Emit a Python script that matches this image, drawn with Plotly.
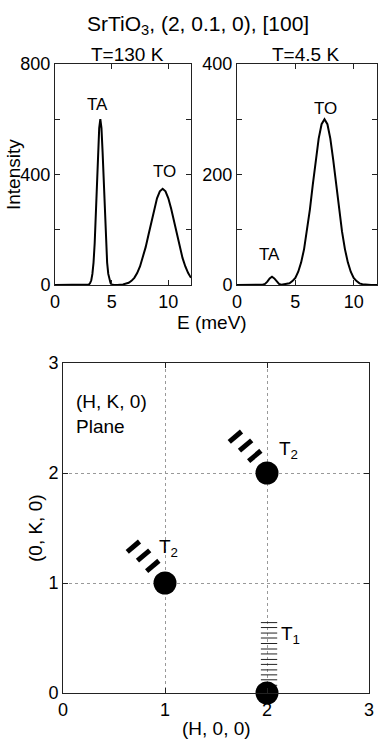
import plotly.graph_objects as go

W, H = 382, 740
FONT = "Liberation Sans, Arial, sans-serif"

# spectra
e_130k = [0, 2.8, 3.0, 3.1, 3.2, 3.3, 3.4, 3.5, 3.6, 3.7, 3.8, 3.9, 4.0, 4.1, 4.2, 4.3, 4.4, 4.5, 4.6, 4.7,
          4.8, 4.9, 5.0, 5.2, 5.5, 6.0, 6.5, 6.75, 7.0, 7.25, 7.5, 7.75, 8.0, 8.25, 8.5, 8.75, 9.0, 9.25, 9.5,
          9.75, 10.0, 10.25, 10.5, 10.75, 11.0, 11.25, 11.5, 11.75, 12.0]
i_130k = [0, 0, 2, 7, 17, 40, 81, 150, 247, 364, 481, 568, 600, 568, 481, 364, 247, 150, 81, 40,
          17, 7, 2, 0, 0, 2, 8, 15, 26, 43, 67, 98, 137, 182, 230, 276, 314, 339, 348,
          339, 314, 276, 230, 182, 137, 98, 67, 43, 26]

e_45k = [0, 2.0, 2.2, 2.4, 2.6, 2.8, 3.0, 3.2, 3.4, 3.6, 3.8, 4.0, 4.25, 4.5, 4.75, 5.0, 5.25, 5.5, 5.75, 6.0,
         6.25, 6.5, 6.75, 7.0, 7.25, 7.5, 7.75, 8.0, 8.25, 8.5, 8.75, 9.0, 9.25, 9.5, 9.75, 10.0, 10.25, 10.5,
         10.75, 11.0, 11.5, 12.0]
i_45k = [0, 0, 0.5, 2, 6, 12, 15, 12, 6, 2, 0.5, 1, 1.5, 3, 7, 13, 24, 41, 65, 97,
         137, 182, 226, 265, 291, 300, 291, 265, 226, 182, 137, 97, 65, 41, 24, 13, 7, 3,
         1.5, 0.7, 0, 0]

# peak labels (E, intensity)
peak_text = ["TA", "TO"]
peak_e_130k = [3.75, 9.7]
peak_i_130k = [655, 411]
peak_e_45k = [2.8, 7.55]
peak_i_45k = [56, 319]

# reciprocal lattice points in the (H, K, 0) plane
bragg_h = [2, 1, 2]
bragg_k = [0, 1, 2]
mode_text = ["T<sub>1</sub>", "T<sub>2</sub>", "T<sub>2</sub>"]
mode_h = [2.12, 0.92, 2.10]
mode_k = [0.53, 1.32, 2.21]

# T2: the three thick bars, offsets from their Bragg point
t2_bar_dh = [-0.12, -0.21, -0.31]
t2_bar_dk = [0.155, 0.25, 0.33]
# T1: heights of the thin rungs above (2, 0, 0)
t1_rung_k = [0.02, 0.07, 0.12, 0.165, 0.21, 0.26, 0.305, 0.355, 0.40, 0.45, 0.50, 0.545, 0.595, 0.64]


def px(x):
    return x / W


def py(y):
    return 1 - y / H


fig = go.Figure()

fig.add_trace(go.Scatter(x=e_130k, y=i_130k, mode="lines", line=dict(color="black", width=2),
                         xaxis="x", yaxis="y", showlegend=False))
fig.add_trace(go.Scatter(x=e_45k, y=i_45k, mode="lines", line=dict(color="black", width=2),
                         xaxis="x2", yaxis="y2", showlegend=False))

# T1 rungs (horizontal thin lines)
rx, ry = [], []
for k in t1_rung_k:
    rx += [bragg_h[0] - 0.06, bragg_h[0] + 0.10, None]
    ry += [k, k, None]
fig.add_trace(go.Scatter(x=rx, y=ry, mode="lines", line=dict(color="#222", width=1),
                         xaxis="x3", yaxis="y3", showlegend=False, cliponaxis=False))

# T2 bars (thick, perpendicular to the ladder)
bx, by = [], []
hdx, hdk = 0.060, 0.047
for h0, k0 in zip(bragg_h[1:], bragg_k[1:]):
    for dh, dk in zip(t2_bar_dh, t2_bar_dk):
        bx += [h0 + dh - hdx, h0 + dh + hdx, None]
        by += [k0 + dk - hdk, k0 + dk + hdk, None]
fig.add_trace(go.Scatter(x=bx, y=by, mode="lines", line=dict(color="black", width=5),
                         xaxis="x3", yaxis="y3", showlegend=False))

fig.add_trace(go.Scatter(x=bragg_h, y=bragg_k, mode="markers",
                         marker=dict(color="black", size=23, line=dict(width=0)),
                         xaxis="x3", yaxis="y3", showlegend=False, cliponaxis=False))

tickfont = dict(family=FONT, size=18, color="black")
common = dict(showline=True, linecolor="#222", linewidth=1, mirror="ticks", ticks="inside",
              ticklen=5, tickcolor="#222", showgrid=False, zeroline=False, tickfont=tickfont,
              automargin=False)
minor = dict(ticks="inside", ticklen=5, tickcolor="#222", showgrid=False)

fig.update_layout(
    width=W, height=H, margin=dict(l=0, r=0, t=0, b=0, pad=0, autoexpand=False),
    paper_bgcolor="white", plot_bgcolor="white",
    font=dict(family=FONT, color="black"),
    xaxis=dict(common, domain=[px(55), px(191)], range=[0, 12], tickvals=[0, 5, 10], anchor="y"),
    yaxis=dict(common, domain=[py(285), py(64)], range=[0, 800], tickvals=[0, 400, 800],
               minor=dict(minor, tickvals=[200, 600]), anchor="x"),
    xaxis2=dict(common, domain=[px(237), px(377)], range=[0, 12], tickvals=[0, 5, 10], anchor="y2"),
    yaxis2=dict(common, domain=[py(285), py(64)], range=[0, 400], tickvals=[0, 200, 400],
                minor=dict(minor, tickvals=[100, 300]), anchor="x2"),
    xaxis3=dict(common, domain=[px(63), px(369)], range=[0, 3], tickvals=[0, 1, 2, 3], anchor="y3",
                showgrid=True, gridcolor="#999", griddash="dot", gridwidth=1),
    yaxis3=dict(common, domain=[py(693), py(363)], range=[0, 3], tickvals=[0, 1, 2, 3], anchor="x3",
                showgrid=True, gridcolor="#999", griddash="dot", gridwidth=1),
)

ann = []
lab = dict(family=FONT, size=19, color="black")
mid = dict(showarrow=False, xanchor="center", yanchor="middle")
ann.append(dict(mid, text="SrTiO<sub>3</sub>, (2, 0.1, 0), [100]", x=px(198), y=py(25), xref="paper",
                yref="paper", font=dict(family=FONT, size=21, color="black")))
ann.append(dict(mid, text="T=130 K", x=px(127), y=py(54), xref="paper", yref="paper", font=lab))
ann.append(dict(mid, text="T=4.5 K", x=px(305), y=py(54), xref="paper", yref="paper", font=lab))
ann.append(dict(mid, text="Intensity", x=px(13), y=py(175), xref="paper", yref="paper",
                textangle=-90, font=lab))
ann.append(dict(mid, text="E (meV)", x=px(212), y=py(322), xref="paper", yref="paper", font=lab))
ann.append(dict(mid, text="(0, K, 0)", x=px(35), y=py(528), xref="paper", yref="paper",
                textangle=-90, font=lab))
ann.append(dict(mid, text="(H, 0, 0)", x=px(216), y=py(728), xref="paper", yref="paper", font=lab))
ann.append(dict(mid, text="(H, K, 0)<br>Plane", x=0.11, y=2.54, xref="x3", yref="y3", xanchor="left",
                align="left", font=lab))
for t, e, i in zip(peak_text, peak_e_130k, peak_i_130k):
    ann.append(dict(mid, text=t, x=e, y=i, xref="x", yref="y",
                    font=dict(family=FONT, size=17, color="black")))
for t, e, i in zip(peak_text, peak_e_45k, peak_i_45k):
    ann.append(dict(mid, text=t, x=e, y=i, xref="x2", yref="y2",
                    font=dict(family=FONT, size=17, color="black")))
for t, h, k in zip(mode_text, mode_h, mode_k):
    ann.append(dict(mid, text=t, x=h, y=k, xref="x3", yref="y3", xanchor="left",
                    font=dict(family=FONT, size=19, color="black")))
fig.update_layout(annotations=ann)

fig.write_html("out.html", config={"displayModeBar": False},
               post_script="document.body.style.margin='0';")
